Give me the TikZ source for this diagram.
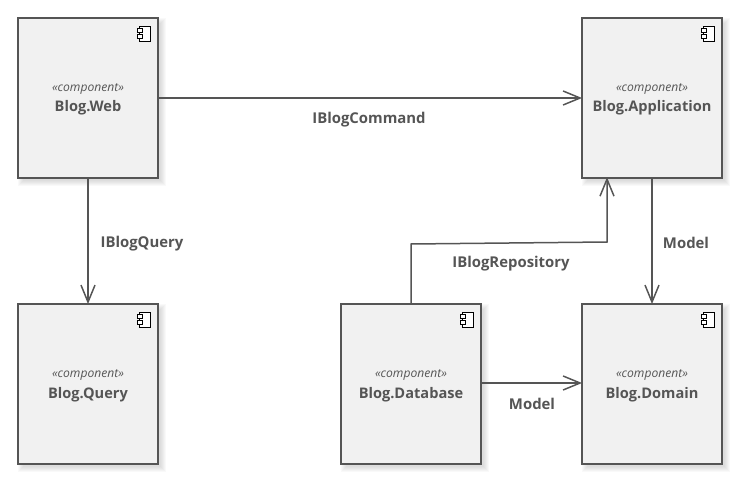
\documentclass[tikz,border=0pt]{standalone}
\usepackage{fontspec}
\setmainfont{Open Sans}
\usetikzlibrary{arrows.meta}
\definecolor{umlink}{HTML}{555555}
\definecolor{umlfill}{HTML}{F1F1F1}
\tikzset{
  x=1pt,y=-1pt,
  comp/.style={draw=umlink,line width=1.5pt,fill=umlfill,minimum width=140pt,minimum height=160pt,inner sep=0pt,align=center,text=umlink,
    font=\fontsize{14.6}{20}\selectfont\bfseries},
  link/.style={draw=umlink,line width=1.5pt,shorten >=-0.8pt,-{Straight Barb[length=17pt,width=14pt,line width=1.5pt]}},
  lab/.style={text=umlink,font=\fontsize{14.9}{16}\selectfont\bfseries,inner sep=0pt},
  shadowlayer/.style={fill=black,fill opacity=0.022,draw=none},
  icon/.style={draw=black,line width=0.7pt,fill=white},
  pics/shadowbox/.style={code={
    \foreach \d in {0,1,...,5}{
      \fill[shadowlayer] (-70-\d+5,-80-\d+5) rectangle (70+\d+3,80+\d+3);
    }
  }},
  pics/compicon/.style={code={
    \draw[icon] (-8.5,0) rectangle (2.5,15);
    \draw[icon] (-10.5,2.5) rectangle (-5,6.5);
    \draw[icon] (-10.5,8.5) rectangle (-5,12.5);
  }}
}
\newcommand{\stereo}[1]{\raisebox{-3.5pt}[0pt][0pt]{\fontsize{12.1}{20}\selectfont\normalfont\itshape «component»}\\[0pt]\raisebox{-4pt}[0pt][0pt]{#1}}
\begin{document}
\begin{tikzpicture}
\useasboundingbox (0,0) rectangle (742,484);
\foreach \cx/\cy in {88/98,652/98,88/384,411/384,652/384}{
  \pic at (\cx,\cy) {shadowbox};
}
\node[comp] (web) at (88,98) {\stereo{Blog.Web}};
\node[comp] (app) at (652,98) {\stereo{Blog.Application}};
\node[comp] (query) at (88,384) {\stereo{Blog.Query}};
\node[comp] (db) at (411,384) {\stereo{Blog.Database}};
\node[comp] (domain) at (652,384) {\stereo{Blog.Domain}};
\foreach \n in {web,app,query,db,domain}{
  \pic at ([xshift=-11pt,yshift=-9pt]\n.north east) {compicon};
}
\coordinate (bendA) at (411,244);
\coordinate (bendB) at (607,242);
\coordinate (appIn) at (607,178);
\draw[link] (web.east) -- (app.west);
\draw[link] (web.south) -- (query.north);
\draw[link] (app.south) -- (domain.north);
\draw[link] (db.east |- 0,383) -- (domain.west |- 0,383);
\draw[link] (db.north) -- (bendA) -- (bendB) -- (appIn);
\node[lab] (l1) at (369,119.5) {IBlogCommand};
\node[lab] (l2) at (142,244) {IBlogQuery};
\node[lab] (l3) at (511,264) {IBlogRepository};
\node[lab] (l4) at (686,242.5) {Model};
\node[lab] (l5) at (532,403.5) {Model};
\end{tikzpicture}
\end{document}
